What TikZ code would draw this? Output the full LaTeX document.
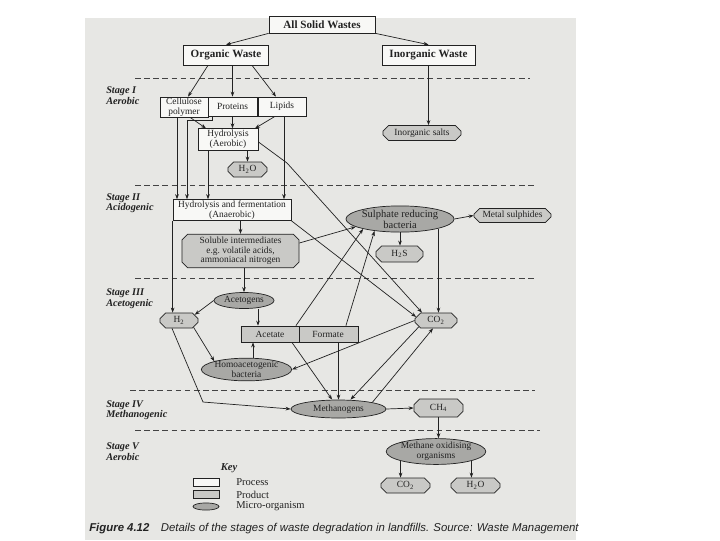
\documentclass[tikz,border=0pt]{standalone}
\usepackage{fontspec}
\setmainfont{Liberation Serif}
\newfontfamily\capfont{Liberation Sans}
\usetikzlibrary{shapes.geometric,shapes.misc,arrows.meta}
\definecolor{PageGrey}{HTML}{E7E7E4}
\definecolor{InkLine}{HTML}{222222}
\definecolor{ProcFill}{HTML}{F8F8F6}
\definecolor{ProdFill}{HTML}{C9C9C6}
\definecolor{MicroFill}{HTML}{A8A8A5}

\begin{document}
\begin{tikzpicture}[x=0.025cm,y=-0.025cm,
    every node/.style={font=\fontsize{6.7}{6.9}\selectfont,text=InkLine,inner sep=0pt,align=center},
    process/.style={draw=InkLine,fill=ProcFill,line width=0.5pt},
    product/.style={chamfered rectangle,chamfered rectangle xsep=2pt,chamfered rectangle ysep=2pt,draw=InkLine,fill=ProdFill,line width=0.5pt},
    micro/.style={ellipse,draw=InkLine,fill=MicroFill,line width=0.5pt},
    bigtext/.style={font=\fontsize{7.9}{8.4}\selectfont\bfseries},
    midtext/.style={font=\fontsize{7.5}{7.9}\selectfont},
    stage/.style={font=\fontsize{7.3}{7.5}\selectfont\bfseries\itshape,align=left,anchor=west},
    stageline/.style={InkLine!85,line width=0.55pt,dash pattern=on 4pt off 2.5pt},
    arr/.style={-{Stealth[length=3.6pt,width=2.6pt]},InkLine,line width=0.5pt}]
  \useasboundingbox (0,0) rectangle (720,540);
  \fill[PageGrey] (85,18) rectangle (576,540);

  \foreach \y/\xa/\xb in {78/135/530,185/135/535,278/135/535,390/130/535,430/135/540}
    \draw[stageline] (\xa,\y) -- (\xb,\y);

  \node[stage] (stage1) at (106,95.5) {Stage I\\Aerobic};
  \node[stage] (stage2) at (106,203) {Stage II\\Acidogenic};
  \node[stage] (stage3) at (106,298.5) {Stage III\\Acetogenic};
  \node[stage] (stage4) at (106,410) {Stage IV\\Methanogenic};
  \node[stage] (stage5) at (106,451.5) {Stage V\\Aerobic};

  \node[process,bigtext,minimum width=2.65cm,minimum height=0.425cm] (allsolid) at (322,24.5) {All Solid Wastes};
  \node[process,bigtext,minimum width=2.125cm,minimum height=0.5cm] (organic) at (226,55) {Organic Waste};
  \node[process,bigtext,minimum width=2.325cm,minimum height=0.5cm] (inorganic) at (428.5,55) {Inorganic Waste};
  \node[process,minimum width=1.2cm,minimum height=0.5cm] (cellulose) at (184,107) {Cellulose\\polymer};
  \node[process,minimum width=1.225cm,minimum height=0.475cm] (proteins) at (232.5,106.5) {Proteins};
  \node[process,minimum width=1.2cm,minimum height=0.475cm] (lipids) at (282,106.5) {Lipids};
  \node[process,minimum width=1.5cm,minimum height=0.54cm] (hydroaer) at (228,139.5) {Hydrolysis\\(Aerobic)};
  \node[product,minimum width=0.975cm,minimum height=0.375cm] (water1) at (247.5,169.5) {H\textsubscript{2}O};
  \node[product,minimum width=1.95cm,minimum height=0.375cm] (salts) at (422,133) {Inorganic salts};
  \node[process,minimum width=2.95cm,minimum height=0.52cm] (hydroferm) at (232,210) {Hydrolysis and fermentation\\(Anaerobic)};
  \node[product,minimum width=2.925cm,minimum height=0.8cm] (soluble) at (240.5,251) {Soluble intermediates\\e.g.\ volatile acids,\\ammoniacal nitrogen};
  \node[micro,midtext,minimum width=2.5cm,minimum height=0.6cm] (srb) at (400,219) {Sulphate reducing\\bacteria};
  \node[product,minimum width=1.925cm,minimum height=0.35cm] (metal) at (512.5,215.5) {Metal sulphides};
  \node[product,minimum width=1.175cm,minimum height=0.4cm] (hs) at (399.5,254) {H\textsubscript{2}S};
  \node[micro,minimum width=1.5cm,minimum height=0.4cm] (acetogens) at (244,300.5) {Acetogens};
  \node[product,minimum width=0.95cm,minimum height=0.375cm] (hyd) at (179,320.5) {H\textsubscript{2}};
  \node[product,minimum width=2.925cm,minimum height=0.4cm] (acetform) at (299.5,334) {};
  \draw[InkLine,line width=0.5pt] (acetform.north) -- (acetform.south);
  \node (acetate) at (270,334) {Acetate};
  \node (formate) at (328,334) {Formate};
  \node[product,minimum width=1.05cm,minimum height=0.375cm] (carbon3) at (436,320.5) {CO\textsubscript{2}};
  \node[micro,minimum width=2.125cm,minimum height=0.5cm] (homo) at (246.5,369.5) {Homoacetogenic\\bacteria};
  \node[micro,minimum width=2.375cm,minimum height=0.45cm] (methanogens) at (338.5,409) {Methanogens};
  \node[product,minimum width=1.225cm,minimum height=0.45cm] (methane) at (438.5,408) {CH\textsubscript{4}};
  \node[micro,minimum width=2.4cm,minimum height=0.6cm] (oxid) at (436,451.5) {Methane oxidising\\organisms};
  \node[product,minimum width=1.225cm,minimum height=0.375cm] (carbon5) at (405.5,485.5) {CO\textsubscript{2}};
  \node[product,minimum width=1.225cm,minimum height=0.375cm] (water5) at (475.5,485.5) {H\textsubscript{2}O};

  \coordinate (xcell) at (177,0);
  \coordinate (xprot) at (187,0);
  \coordinate (xhyd) at (208,0);
  \coordinate (xlip) at (284,0);
  \coordinate (xacg) at (258,0);
  \coordinate (xhom) at (253,0);
  \coordinate (hbend) at (203,402);
  \coordinate (abend) at (287,163);

  \draw[arr] (allsolid.south west) -- (organic.north);
  \draw[arr] (allsolid.south east) -- (inorganic.north);
  \draw[arr] ([xshift=-0.45cm]organic.south) -- ([xshift=0.1cm]cellulose.north);
  \draw[arr] (organic.south -| proteins.north) -- (proteins.north);
  \draw[arr] ([xshift=0.65cm]organic.south) -- ([xshift=-0.15cm]lipids.north);
  \draw[arr] (inorganic.south) -- (inorganic.south |- salts.north);
  \draw[arr] ([xshift=0.15cm]cellulose.south) -- ([xshift=-0.55cm]hydroaer.north);
  \draw[arr] (proteins.south) -- (proteins.south |- hydroaer.north);
  \draw[arr] ([xshift=-0.175cm]lipids.south) -- ([xshift=0.675cm]hydroaer.north);
  \draw[arr] (water1.north |- hydroaer.south) -- (water1.north);
  \draw[arr] (cellulose.south -| xcell) -- (hydroferm.north -| xcell);
  \draw[arr] ([xshift=0.125cm]proteins.south west) -- ++(0,4) -| (hydroferm.north -| xprot);
  \draw[arr] (hydroaer.south -| xhyd) -- (hydroferm.north -| xhyd);
  \draw[arr] (lipids.south -| xlip) -- (hydroferm.north -| xlip);
  \draw[arr] (hydroferm.south west) -- (hydroferm.south west |- hyd.north);
  \draw[arr] (soluble.north |- hydroferm.south) -- (soluble.north);
  \draw[arr] (acetogens.north |- soluble.south) -- (acetogens.north);
  \draw[arr] (acetogens.west) -- (hyd.20);
  \draw[arr] (acetogens.south -| xacg) -- (acetform.north -| xacg);
  \draw[arr] (homo.north -| xhom) -- (acetform.south -| xhom);
  \draw[arr] (hyd.-25) -- (homo.north west);
  \draw[arr] ([xshift=-0.175cm]hyd.south) -- (hbend) -- (methanogens.west);
  \draw[arr] ([xshift=-0.19cm]acetform.south) -- ([xshift=-0.16cm]methanogens.north);
  \draw[arr] (methanogens.north |- acetform.south) -- (methanogens.north);
  \draw[arr] (carbon3.200) -- ([xshift=0.3cm]methanogens.north);
  \draw[arr] (methanogens.north east) -- ([xshift=-0.075cm]carbon3.south);
  \draw[arr] (methanogens.east) -- (methane.west);
  \draw[arr] (methane.south) -- (methane.south |- oxid.north);
  \draw[arr] (oxid.south west) -- (oxid.south west |- carbon5.north);
  \draw[arr] (oxid.south east) -- (oxid.south east |- water5.north);
  \draw[arr] (srb.east) -- (metal.west);
  \draw[arr] (srb.south) -- (srb.south |- hs.north);
  \draw[arr] (srb.south east) -- (srb.south east |- carbon3.north);
  \draw[arr] ([yshift=0.2cm]soluble.east) -- (srb.190);
  \draw[arr] ([xshift=-0.09cm]acetform.north) -- (srb.195);
  \draw[arr] ([xshift=1.16cm]acetform.north) -- (srb.205);
  \draw[arr] ([yshift=-0.06cm]hydroaer.east) -- (abend) -- ([xshift=-0.35cm]carbon3.north);
  \draw[arr] (hydroferm.south east) -- (carbon3.170);
  \draw[arr] (carbon3.west) -- (homo.east);

  \node[font=\fontsize{7.5}{8}\selectfont\bfseries\itshape] (keytitle) at (229,468) {Key};
  \node[process,minimum width=0.65cm,minimum height=0.2cm] (keyproc) at (206,482) {};
  \node[product,chamfered rectangle xsep=1.2pt,chamfered rectangle ysep=1.2pt,minimum width=0.65cm,minimum height=0.19cm] (keyprod) at (206,494.5) {};
  \node[micro,minimum width=0.65cm,minimum height=0.18cm] (keymicro) at (206,506.5) {};
  \node[midtext,anchor=west] (keyproctext) at (236,482) {Process};
  \node[midtext,anchor=west] (keyprodtext) at (236,494.5) {Product};
  \node[midtext,anchor=west] (keymicrotext) at (236,506.5) {Micro-organism};

  \node[font=\capfont\itshape\fontsize{8.1}{8.5}\selectfont,anchor=base west] (caption) at (89,531)
    {\textbf{Figure 4.12}\quad Details of the stages of waste degradation in landfills. Source: Waste Management};
\end{tikzpicture}
\end{document}
